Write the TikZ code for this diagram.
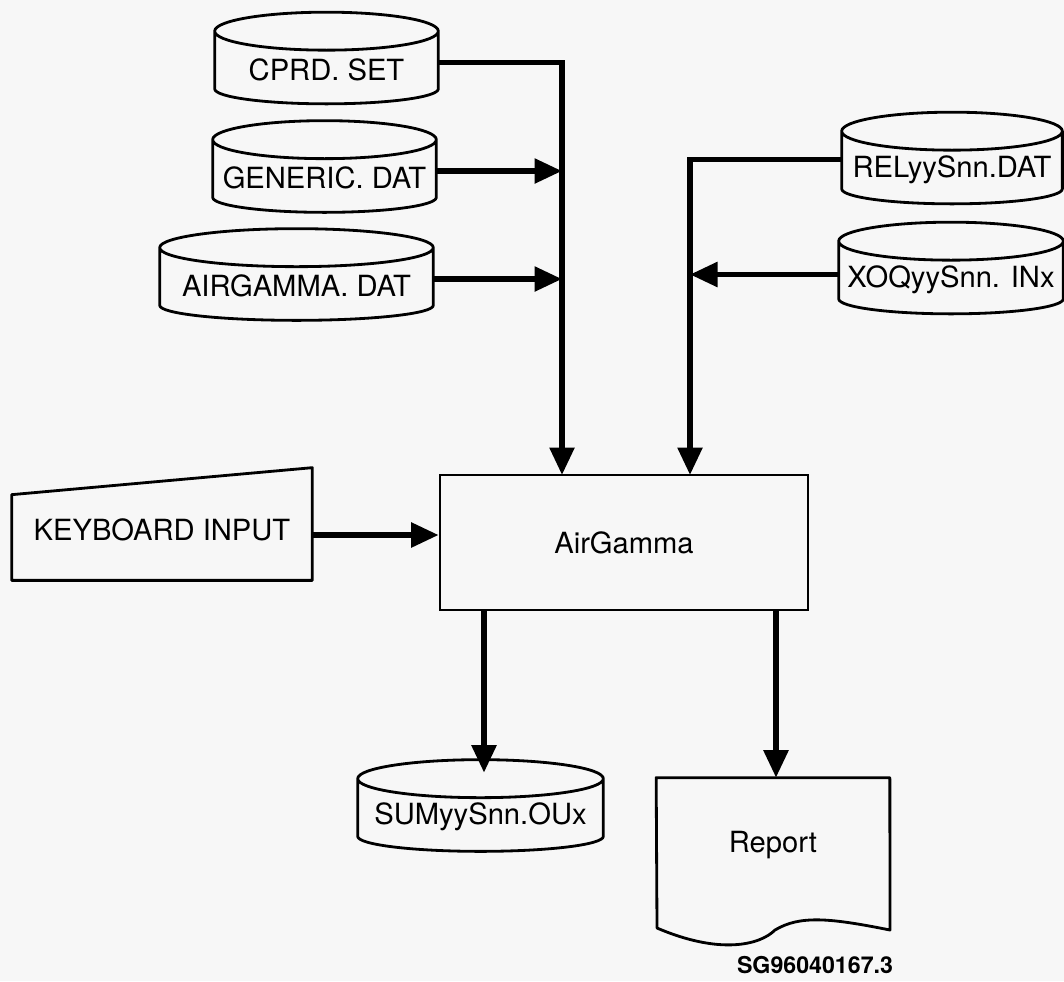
\documentclass[tikz,border=0pt]{standalone}
\usepackage{fontspec}
\setmainfont{TeX Gyre Heros}
\usetikzlibrary{arrows.meta,calc}
\definecolor{paper}{HTML}{F7F7F7}
\begin{document}
\begin{tikzpicture}[x=0.02cm, y=-0.02cm,
  every node/.style={font=\fontsize{16.6}{20}\selectfont},
  store/.style={inner sep=0pt, minimum height=0.76cm},
  outline/.style={line width=1.6pt, line join=round},
  flow/.style={line width=3.2pt, -{Triangle[length=0.55cm, width=0.48cm]}}]
\fill[paper] (0,0) rectangle (1064,981);
\useasboundingbox (0,0) rectangle (1064,981);

% input files
\node[store, minimum width=4.46cm] (cprd) at (326.5,69.5) {CPRD. SET};
\node[store, minimum width=4.46cm] (generic) at (324.5,178) {GENERIC. DAT};
\node[store, minimum width=5.46cm] (airdat) at (296.5,286) {AIRGAMMA. DAT};
\node[store, minimum width=4.4cm] (rel) at (952,169.5) {RELyySnn.DAT};
\node[store, minimum width=4.48cm] (xoq) at (951,279.5) {XOQyySnn. INx};
\node[store, minimum width=4.9cm] (sum) at (480.5,817) {SUMyySnn.OUx};

\node[minimum width=7.36cm, minimum height=2.7cm, draw, line width=1.6pt] (air) at (624,542.5) {AirGamma};
\node[minimum width=6cm, minimum height=2cm] (kbd) at (162,530) {KEYBOARD INPUT};
\node[minimum width=4.66cm, minimum height=2.68cm] (rep) at (773,845) {Report};
\node[font=\fontsize{13.2}{15}\selectfont\bfseries] (tag) at (815,965) {SG96040167.3};

% disk outlines
\foreach \f in {cprd,generic,airdat,rel,xoq,sum}
  \draw[outline] let \p1=(\f.north west), \p2=(\f.south east) in
    (\x1,\y1+0.38cm) -- (\x1,\y2)
    arc[start angle=180, end angle=360, x radius={(\x2-\x1)/2}, y radius=0.3cm]
    -- (\x2,\y1+0.38cm)
    arc[start angle=0, end angle=360, x radius={(\x2-\x1)/2}, y radius=0.38cm];

% keyboard and report outlines
\draw[outline] (kbd.south west) -- ([yshift=-0.3cm]kbd.north west)
  -- ([yshift=0.24cm]kbd.north east) -- (kbd.south east) -- cycle;
\draw[outline] (rep.north west) -- (rep.north east) -- (890,930)
  .. controls (830,918) and (800,915) .. (775,930)
  .. controls (760,945) and (720,955) .. (657,928) -- cycle;

\coordinate (inL) at (562,475);
\coordinate (inR) at (690,475);
\coordinate (outL) at (484,610);
\coordinate (outR) at (776,610);

\draw[flow] ([yshift=0.14cm]cprd.east) -| (inL);
\draw[flow] ([yshift=0.14cm]generic.east) -- ([yshift=0.14cm]generic.east -| inL);
\draw[flow] ([yshift=0.14cm]airdat.east) -- ([yshift=0.14cm]airdat.east -| inL);
\draw[flow] ([yshift=0.2cm]rel.west) -| (inR);
\draw[flow] ([yshift=0.1cm]xoq.west) -- ([yshift=0.1cm]xoq.west -| inR);
\draw[flow] ([yshift=-0.1cm]kbd.east) -- ([yshift=-0.1cm]kbd.east -| air.west);
\draw[flow] (outL) -- ([yshift=0.5cm]outL |- sum.north);
\draw[flow] (outR) -- (outR |- rep.north);
\end{tikzpicture}
\end{document}
